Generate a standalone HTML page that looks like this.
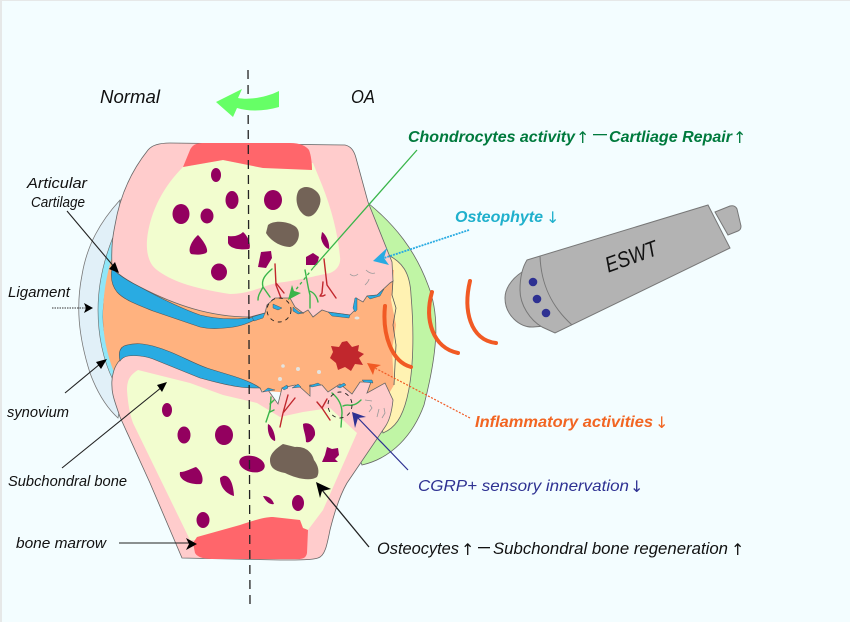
<!DOCTYPE html>
<html><head><meta charset="utf-8"><style>
html,body{margin:0;padding:0;background:#f3fdff}
svg{display:block}
text{font-family:"Liberation Sans","DejaVu Sans",sans-serif;font-style:italic}
text.a{font-style:normal;font-family:"DejaVu Sans",sans-serif}
</style></head><body>
<svg xmlns="http://www.w3.org/2000/svg" width="850" height="622" viewBox="0 0 850 622">
<rect width="850" height="622" fill="#f3fdff"/>
<rect width="2" height="622" fill="#e6e8e8"/>
<rect width="850" height="1" fill="#e6e8e8"/>

<!-- ligament and synovium -->
<path d="M120,200C100,222 87,245 82,275C76,305 78,335 90,373C97,392 107,408 118,418L125,380L113,300Z" fill="#e1f0f8" stroke="#777" stroke-width=".8"/>
<path d="M113,237C103,262 98,285 98,310C98,335 103,360 113,380L118,365C108,350 103,335 103,317C103,300 106,285 112,262Z" fill="#8fe6f8" stroke="#666" stroke-width=".6"/>

<!-- right capsule -->
<path d="M368,203C395,225 415,250 428,285C440,315 438,350 424,405C413,435 392,458 362,465L352,440L385,270Z" fill="#c0f5a5" stroke="#666" stroke-width=".8"/>
<path d="M388,255C402,262 410,272 411,295C414,330 414,370 407,398C402,418 395,428 383,433L375,400L385,280Z" fill="#fff2b2" stroke="#666" stroke-width=".8"/>

<!-- joint fluid -->
<path d="M112,257C105,280 103,300 103,317C103,335 107,355 114,372L120,380L385,400L394,385L392,350L396,325L391,300L394,270L113,255Z" fill="#ffb27f"/>
<path d="M393,280L392,295L396,308L393,325L396,345L394,385" fill="none" stroke="#555" stroke-width=".8"/>

<!-- upper bone -->
<path d="M112,268C111,245 113,235 115,225C120,195 132,170 148,150C152,145 160,143 170,143L345,145C350,146 354,150 356,158L368,202L392,262L393,281L390,283L377,295L367,296L363,302L356,298L355,310L350,315L328,312L322,310L313,317L308,310L303,313L295,307L290,298L275,298L267,305L265,313L250,317C210,317 175,305 140,287C130,282 120,276 112,268Z" fill="#ffcccc" stroke="#666" stroke-width=".8"/>
<path d="M183,167C165,185 150,210 147,240C146,255 150,265 157,270C170,280 190,288 230,294C250,294 265,285 277,283C300,280 315,276 330,273C338,270 341,263 340,257C338,235 332,210 322,185L313,163L263,168L223,160Z" fill="#f2fdcf"/>
<path d="M183,167L190,150C193,144 197,143 205,143L290,143C300,143 306,146 309,150C311,155 312,163 312,170L263,168L223,160Z" fill="#ff666b"/>

<!-- upper cartilage -->
<path d="M112,268C118,275 130,282 140,287C160,298 180,308 200,315C220,320 240,320 262,316C250,323 240,327 225,328C215,329 208,329 200,327L153,311C138,305 124,300 117,292C113,287 110,279 112,268Z" fill="#29abe2" stroke="#555" stroke-width=".6"/>

<!-- upper jagged cartilage bits -->
<g fill="#29abe2" stroke="#444" stroke-width=".4">
<path d="M252,317L265,313L263,318L254,321Z"/>
<path d="M273,304L282,308L278,310L273,308Z"/>
<path d="M293,307L299,312L304,313L298,314L293,311Z"/>
<path d="M328,312L350,315L349,318L332,316Z"/>
<path d="M355,298L357,298L357,310L355,312L353,308Z"/>
<path d="M367,296L377,295L384,289L380,296L370,299Z"/>
</g>

<!-- lower bone -->
<path d="M112,387C111,375 115,365 120,360C124,355 130,352 140,353C160,355 190,370 207,376C225,381 250,385 260,388L262,392L268,390L278,404L282,388L295,385L300,387L310,396L310,385L322,385L328,392L340,384L352,394L360,382L371,382L367,393L385,383L393,400C392,410 390,420 385,427L347,483C340,495 335,510 330,530C327,545 325,556 318,558C312,560 300,560 280,560L182,558L150,483L120,417C116,405 112,395 112,387Z" fill="#ffcccc" stroke="#666" stroke-width=".8"/>
<path d="M138,370C130,375 127,380 127,390C128,405 130,415 133,423L190,540L240,540L308,530L323,510L357,433L330,408L303,412L280,417L257,403L223,395L190,383Z" fill="#f2fdcf"/>
<path d="M193,543L197,537L240,525C255,520 265,517 273,517L300,520L303,528L308,530L307,553C306,558 303,559 298,559L215,559C205,559 198,558 195,553Z" fill="#ff666b"/>
<path d="M120,361C118,352 120,348 124,346C135,342 145,344 153,346C175,352 190,362 207,368C225,374 248,379 260,388C250,388 245,388 240,387C225,385 215,382 200,378L153,359C145,356 135,355 128,356C124,357 122,358 120,361Z" fill="#29abe2" stroke="#555" stroke-width=".6"/>
<g fill="#29abe2" stroke="#444" stroke-width=".4">
<path d="M263,392L268,388L275,390L268,391Z"/>
<path d="M282,388L287,385L288,388L284,390Z"/>
<path d="M292,388L298,384L301,387Z"/>
<path d="M309,386L318,383L321,385L312,387Z"/>
<path d="M337,387L344,383L346,385L340,388Z"/>
<path d="M362,380L372,380L373,383L364,382Z"/>
</g>

<!-- purple blobs -->
<g fill="#93005f">
<ellipse cx="216" cy="175" rx="5" ry="7"/>
<ellipse cx="232" cy="200" rx="6.500" ry="9"/>
<ellipse cx="181" cy="214" rx="8.500" ry="10"/>
<ellipse cx="207" cy="216" rx="6.500" ry="7.500"/>
<path d="M198,235C203,240 208,248 207,252C205,255 195,255 191,254C187,250 192,240 198,235Z"/>
<path d="M228,236C235,237 240,235 243,232C250,238 251,248 249,249C240,250 230,249 228,243Z"/>
<ellipse cx="219" cy="272" rx="8" ry="8.500"/>
<ellipse cx="273" cy="200" rx="9" ry="10"/>
<path d="M322,232C327,235 330,245 329,249C325,248 322,243 321,238Z"/>
<path d="M261,252L271,251L272,258L266,268L258,267Z"/>
<path d="M306,257L313,253L319,257L317,265L306,265Z"/>
<ellipse cx="167" cy="410" rx="5" ry="7"/>
<ellipse cx="184" cy="435" rx="6.500" ry="8.500"/>
<ellipse cx="224" cy="435" rx="9" ry="10"/>
<ellipse cx="252" cy="464" rx="13" ry="8" transform="rotate(15 252 464)"/>
<path d="M180,472C186,472 192,468 196,467C203,472 204,482 201,484C190,485 178,480 180,472Z"/>
<path d="M220,478C226,472 233,478 234,496C227,494 220,488 220,478Z"/>
<ellipse cx="203" cy="520" rx="6.500" ry="8"/>
<path d="M268,424C273,426 276,438 275,441C270,440 267,432 268,424Z"/>
<path d="M303,424C310,421 316,428 315,435C312,442 308,443 306,442C306,435 303,430 303,424Z"/>
<path d="M327,447L332,449L338,448L339,455L335,459L338,462L322,462L325,455Z"/>
<path d="M263,496C268,496 272,498 274,504C270,505 266,502 263,496Z"/>
<ellipse cx="298" cy="503" rx="6" ry="8"/>
</g>
<g fill="#736357">
<path d="M299,190C305,184 314,188 318,193C322,198 321,205 316,212C311,218 306,218 301,212C296,206 295,196 299,190Z"/>
<path d="M268,225C274,220 288,221 296,227C302,233 298,245 290,247C280,247 270,240 266,233Z"/>
<path d="M270,460C270,452 280,446 283,444L295,447C305,446 312,452 314,460C318,465 320,472 317,477C310,482 295,478 285,473C275,471 270,468 270,460Z"/>
</g>

<!-- vessels -->
<g fill="none" stroke-width="1.400" stroke-linecap="round" stroke-linejoin="round">
<g stroke="#39b54a">
<path d="M272,269C265,275 261,280 263,287L270,297M263,287C260,293 258,295 258,300"/>
<path d="M305,270C307,280 308,288 310,295L310,308M309,291C314,292 317,297 318,302"/>
<path d="M271,397L270,410L266,422M270,404L274,400M270,412L274,410"/>
<path d="M332,393C338,398 342,405 342,413L341,427M343,406C347,404 350,406 352,405C356,405 359,402 361,400"/>
</g>
<g stroke="#c1272d">
<path d="M275,264L276,285L281,298M276,283L284,293"/>
<path d="M324,259L327,285L336,298M323,282L322,293L320,296L323,296L325,295"/>
<path d="M280,427L283,413L288,395M283,413L295,398"/>
<path d="M317,402L322,408L330,420M322,408L327,399"/>
</g>
</g>
<ellipse cx="279" cy="310" rx="12" ry="12" fill="none" stroke="#222" stroke-width=".9" stroke-dasharray="4 4"/>
<ellipse cx="340" cy="405" rx="12" ry="13" fill="none" stroke="#222" stroke-width=".9" stroke-dasharray="4 4"/>
<g fill="none" stroke="#999" stroke-width=".8">
<path d="M350,274C353,277 356,276 358,274M366,270C369,273 372,274 375,273M365,285C367,283 369,281 369,279"/>
<path d="M365,400L372,401M370,405L372,408L369,412M379,409L377,417M384,408L385,413L382,418"/>
</g>
<g fill="#e4e4e0">
<circle cx="283" cy="366" r="1.800"/><circle cx="298" cy="369" r="2"/><circle cx="319" cy="372" r="2"/><circle cx="280" cy="379" r="2"/><ellipse cx="357" cy="318" rx="2.500" ry="1.500"/>
</g>

<!-- red star -->
<path d="M347,341L352,347L359,345L358,351L364,354L359,358L363,365L355,364L351,371L345,367L338,370L336,363L330,358L333,352L331,346L339,347L342,342Z" fill="#c1272d"/>

<!-- center axis -->
<line x1="248" y1="70" x2="250" y2="605" stroke="#222" stroke-width="1.300" stroke-dasharray="9 6"/>
<path d="M216,102L242,89L238,98C248,100 265,98 279,91L279,107C265,111 250,112 237,108L233,117Z" fill="#66ff66"/>

<!-- waves -->
<g fill="none" stroke="#f15a24" stroke-width="4" stroke-linecap="round">
<path d="M470,281C463,310 470,340 496,343"/>
<path d="M432,292C424,320 433,348 458,353"/>
<path d="M385,306C382,335 392,362 411,367"/>
</g>

<!-- ESWT device -->
<g stroke="#777" stroke-width="1" fill="#b3b3b3">
<path d="M715,212L730,206C734,205 736,207 737,209L741,226C741,229 740,230 738,231L728,235Z"/>
<path d="M522,272C510,280 505,290 505,298C505,315 520,328 533,327L545,326Z"/>
<path d="M527,260L708,205L730,248L555,333L542,327C530,320 520,305 520,290C520,278 522,268 527,260Z"/>
<path d="M540,256C541,285 552,307 572,325" fill="none"/>
</g>
<g fill="#2e3192">
<circle cx="533" cy="282" r="4.300"/><circle cx="537" cy="299" r="4.300"/><circle cx="546" cy="313" r="4.300"/>
</g>
<text x="631" y="264" font-size="22" text-anchor="middle" fill="#111" transform="rotate(-20 631 256)" textLength="54" lengthAdjust="spacingAndGlyphs">ESWT</text>

<!-- connectors -->
<g fill="none" stroke-width="1.100">
<line x1="67" y1="211" x2="115" y2="268" stroke="#222"/>
<path d="M119,273L109,269L115,262Z" fill="#000" stroke="none"/>
<line x1="52" y1="308" x2="86" y2="308" stroke="#333" stroke-dasharray="1.500 1"/>
<path d="M93,308L84,303L86,308L84,313Z" fill="#000" stroke="none"/>
<line x1="65" y1="393" x2="100" y2="364" stroke="#222"/>
<path d="M107,359L101,369L96,362Z" fill="#000" stroke="none"/>
<line x1="62" y1="468" x2="162" y2="387" stroke="#222"/>
<path d="M167,382L162,392L157,385Z" fill="#000" stroke="none"/>
<line x1="119" y1="543" x2="190" y2="543" stroke="#222"/>
<path d="M197,544L186,538L189,544L186,550Z" fill="#000" stroke="none"/>
<line x1="369" y1="547" x2="322" y2="490" stroke="#222" stroke-width="1.300"/>
<path d="M316,482L331,489L322,491L320,498Z" fill="#000" stroke="none"/>
<line x1="417" y1="150" x2="313" y2="268" stroke="#39b54a" stroke-width="1.300"/>
<line x1="313" y1="268" x2="294" y2="292" stroke="#39b54a" stroke-width="1.300" stroke-dasharray="3 3"/>
<path d="M288,300L292,285L294,291L301,293Z" fill="#39b54a" stroke="none"/>
<line x1="469" y1="230" x2="384" y2="258" stroke="#29abe2" stroke-width="1.800" stroke-dasharray="2 1"/>
<path d="M373,261L387,248L384,258L389,265Z" fill="#29abe2" stroke="none"/>
<line x1="470" y1="418" x2="375" y2="368" stroke="#f15a24" stroke-width="1.200" stroke-dasharray="2 1.500"/>
<path d="M367,363L381,365L375,368L373,375Z" fill="#f15a24" stroke="none"/>
<line x1="408" y1="470" x2="358" y2="418" stroke="#2e3192" stroke-width="1.200"/>
<path d="M352,412L366,417L358,418L355,428Z" fill="#2e3192" stroke="none"/>
</g>

<!-- labels -->
<g fill="#111">
<text x="100" y="103" font-size="18" textLength="60" lengthAdjust="spacingAndGlyphs">Normal</text>
<text x="351" y="103" font-size="18" textLength="24" lengthAdjust="spacingAndGlyphs">OA</text>
<text x="27" y="188" font-size="15" textLength="60" lengthAdjust="spacingAndGlyphs">Articular</text>
<text x="31" y="207" font-size="15" textLength="54" lengthAdjust="spacingAndGlyphs">Cartilage</text>
<text x="8" y="297" font-size="15" textLength="62" lengthAdjust="spacingAndGlyphs">Ligament</text>
<text x="7" y="417" font-size="15" textLength="62" lengthAdjust="spacingAndGlyphs">synovium</text>
<text x="8" y="486" font-size="15" textLength="119" lengthAdjust="spacingAndGlyphs">Subchondral bone</text>
<text x="16" y="548" font-size="15" textLength="90" lengthAdjust="spacingAndGlyphs">bone marrow</text>
<text x="377" y="554" font-size="17" textLength="82" lengthAdjust="spacingAndGlyphs">Osteocytes</text>
<text class="a" x="461" y="555" font-size="16">↑</text>
<rect x="478" y="547" width="12" height="1.300" fill="#111"/>
<text x="493" y="554" font-size="17" textLength="235" lengthAdjust="spacingAndGlyphs">Subchondral bone regeneration</text>
<text class="a" x="731" y="555" font-size="16">↑</text>
</g>
<g fill="#007a3d" font-weight="bold">
<text x="408" y="142" font-size="16" textLength="167" lengthAdjust="spacingAndGlyphs">Chondrocytes activity</text>
<text class="a" x="576" y="143" font-size="16" font-weight="normal">↑</text>
<rect x="593" y="134" width="14" height="1.300"/>
<text x="609" y="142" font-size="16" textLength="123" lengthAdjust="spacingAndGlyphs">Cartliage Repair</text>
<text class="a" x="733" y="143" font-size="16" font-weight="normal">↑</text>
</g>
<g fill="#1fb0cc" font-weight="bold">
<text x="455" y="222" font-size="15.500" textLength="88" lengthAdjust="spacingAndGlyphs">Osteophyte</text>
<text class="a" x="546" y="223" font-size="16" font-weight="normal">↓</text>
</g>
<g fill="#f26522" font-weight="bold">
<text x="475" y="427" font-size="15.500" textLength="178" lengthAdjust="spacingAndGlyphs">Inflammatory activities</text>
<text class="a" x="655" y="428" font-size="16" font-weight="normal">↓</text>
</g>
<g fill="#2e3192">
<text x="418" y="491" font-size="16" textLength="211" lengthAdjust="spacingAndGlyphs">CGRP+ sensory innervation</text>
<text class="a" x="630" y="492" font-size="16">↓</text>
</g>
</svg>
</body></html>
